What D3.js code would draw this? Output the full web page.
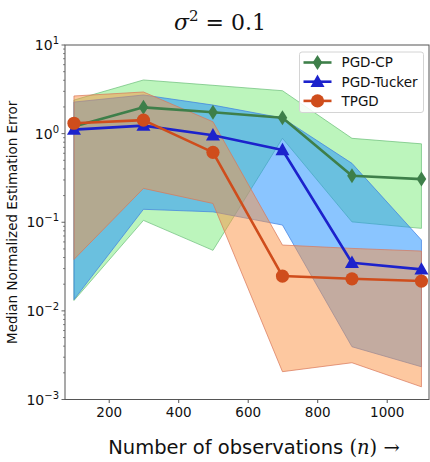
<!DOCTYPE html>
<html>
<head>
<meta charset="utf-8">
<script src="https://cdn.jsdelivr.net/npm/d3@7"></script>
<style>
  html, body { margin: 0; padding: 0; background: #fff; }
  svg { display: block; }
</style>
</head>
<body>
<svg id="chart" width="430" height="462"></svg>
<script>
// Number of observations
const observations = [100, 300, 500, 700, 900, 1100];

// Median errors per method
const pgdCpMedian     = [1.20, 1.98, 1.74, 1.51, 0.335, 0.307];
const pgdTuckerMedian = [1.11, 1.23, 0.957, 0.653, 0.0349, 0.0294];
const tpgdMedian      = [1.31, 1.42, 0.615, 0.0247, 0.0230, 0.0217];

// Spread bands (lower / upper) per method
const pgdCpLower      = [0.0131, 0.105, 0.0482, 0.885, 0.101, 0.0853];
const pgdCpUpper      = [2.39, 4.03, 3.51, 3.05, 0.885, 0.767];
const pgdTuckerLower  = [0.0134, 0.140, 0.131, 0.0930, 0.00394, 0.00234];
const pgdTuckerUpper  = [2.27, 2.73, 2.10, 1.50, 0.462, 0.0630];
const tpgdLower       = [0.0381, 0.241, 0.163, 0.00206, 0.00260, 0.00139];
const tpgdUpper       = [2.66, 2.95, 1.36, 0.0553, 0.0507, 0.0473];

const xTicks = [200, 400, 600, 800, 1000];
const yTickExponents = [1, 0, -1, -2, -3];

const seriesNames = ["PGD-CP", "PGD-Tucker", "TPGD"];

const series = [
  { name: seriesNames[0], med: pgdCpMedian, lo: pgdCpLower, hi: pgdCpUpper,
    line: "#3e7f4a", fill: "#90ee90", fillOpacity: 0.6, edge: "#6dbf7a", marker: "diamond" },
  { name: seriesNames[1], med: pgdTuckerMedian, lo: pgdTuckerLower, hi: pgdTuckerUpper,
    line: "#1c22cc", fill: "#1e90ff", fillOpacity: 0.52, edge: "#3f7fe0", marker: "triangle" },
  { name: seriesNames[2], med: tpgdMedian, lo: tpgdLower, hi: tpgdUpper,
    line: "#cf4d1c", fill: "#fb9141", fillOpacity: 0.5, edge: "#d9785a", marker: "circle" }
];

const svg = d3.select("#chart");
const plot = { left: 65, right: 429, top: 45, bottom: 399.5 };

const x = d3.scaleLinear().domain([74.2, 1121.7]).range([plot.left, plot.right]);
const y = d3.scaleLog().domain([1e-3, 10]).range([plot.bottom, plot.top]);

svg.append("clipPath").attr("id", "plotClip")
  .append("rect")
  .attr("x", plot.left).attr("y", plot.top)
  .attr("width", plot.right - plot.left).attr("height", plot.bottom - plot.top);

const gPlot = svg.append("g").attr("clip-path", "url(#plotClip)");

// Bands
const area = d3.area()
  .x((d, i) => x(observations[i]))
  .y0(d => y(d[0]))
  .y1(d => y(d[1]));

series.forEach(s => {
  const pts = s.lo.map((v, i) => [v, s.hi[i]]);
  gPlot.append("path")
    .datum(pts)
    .attr("d", area)
    .attr("fill", s.fill)
    .attr("fill-opacity", s.fillOpacity)
    .attr("stroke", s.edge)
    .attr("stroke-opacity", 0.8)
    .attr("stroke-width", 0.9);
});

// Median lines and markers
const line = d3.line()
  .x((d, i) => x(observations[i]))
  .y(d => y(d));

const symbolFor = {
  diamond: d3.symbol().type({
    draw(ctx) {
      const h = 7.5, w = 4.8;
      ctx.moveTo(0, -h); ctx.lineTo(w, 0); ctx.lineTo(0, h); ctx.lineTo(-w, 0); ctx.closePath();
    }
  }),
  triangle: d3.symbol().type({
    draw(ctx) {
      ctx.moveTo(0, -7.2); ctx.lineTo(7, 5.2); ctx.lineTo(-7, 5.2); ctx.closePath();
    }
  }),
  circle: d3.symbol().type(d3.symbolCircle).size(Math.PI * 6.6 * 6.6)
};

series.forEach(s => {
  gPlot.append("path")
    .datum(s.med)
    .attr("d", line)
    .attr("fill", "none")
    .attr("stroke", s.line)
    .attr("stroke-width", 2.6)
    .attr("stroke-linejoin", "round");
  gPlot.selectAll(null)
    .data(s.med)
    .enter().append("path")
    .attr("d", symbolFor[s.marker]())
    .attr("transform", (d, i) => `translate(${x(observations[i])},${y(d)})`)
    .attr("fill", s.line);
});

// Spines
const spineColor = "#555";
svg.append("rect")
  .attr("x", plot.left).attr("y", plot.top)
  .attr("width", plot.right - plot.left).attr("height", plot.bottom - plot.top)
  .attr("fill", "none").attr("stroke", spineColor).attr("stroke-width", 1);

// X axis
const xAxis = d3.axisBottom(x).tickValues(xTicks).tickFormat(d3.format("d"))
  .tickSize(3.5).tickPadding(4);
const gx = svg.append("g").attr("transform", `translate(0,${plot.bottom})`).call(xAxis);
gx.select(".domain").remove();
gx.selectAll(".tick line").attr("stroke", spineColor);
gx.selectAll(".tick text")
  .attr("font-family", "DejaVu Sans, sans-serif")
  .attr("font-size", 13.5)
  .attr("fill", "#111");

// Y axis: major decade ticks and minor ticks
const gy = svg.append("g");
const majors = yTickExponents.map(e => Math.pow(10, e));
const minors = [];
for (let e = -3; e < 1; e++) {
  for (let k = 2; k <= 9; k++) minors.push(k * Math.pow(10, e));
}
gy.selectAll(".minor").data(minors).enter().append("line")
  .attr("x1", plot.left - 2).attr("x2", plot.left)
  .attr("y1", d => y(d)).attr("y2", d => y(d))
  .attr("stroke", spineColor).attr("stroke-width", 0.7);
gy.selectAll(".major").data(majors).enter().append("line")
  .attr("x1", plot.left - 3.5).attr("x2", plot.left)
  .attr("y1", d => y(d)).attr("y2", d => y(d))
  .attr("stroke", spineColor).attr("stroke-width", 0.9);

const yLabels = gy.selectAll(".ylab").data(yTickExponents).enter().append("text")
  .attr("x", plot.left - 6)
  .attr("y", e => y(Math.pow(10, e)) + 5)
  .attr("text-anchor", "end")
  .attr("font-family", "DejaVu Sans, sans-serif")
  .attr("font-size", 14)
  .attr("fill", "#111");
yLabels.append("tspan").text("10");
yLabels.append("tspan")
  .attr("dy", -6)
  .attr("font-size", 10)
  .text(e => e < 0 ? "\u2212" + Math.abs(e) : String(e));

// Y axis title
svg.append("text")
  .attr("transform", `translate(17,${(plot.top + plot.bottom) / 2}) rotate(-90)`)
  .attr("text-anchor", "middle")
  .attr("font-family", "DejaVu Sans, sans-serif")
  .attr("font-size", 13.5)
  .attr("fill", "#111")
  .text("Median Normalized Estimation Error");

// X axis title
const xt = svg.append("text")
  .attr("x", 254).attr("y", 454)
  .attr("text-anchor", "middle")
  .attr("font-family", "DejaVu Sans, sans-serif")
  .attr("font-size", 19.5)
  .attr("fill", "#111");
xt.append("tspan").text("Number of observations ");
xt.append("tspan").attr("font-family", "DejaVu Serif, serif").text("(");
xt.append("tspan").attr("font-family", "DejaVu Serif, serif").attr("font-style", "italic").text("n");
xt.append("tspan").attr("font-family", "DejaVu Serif, serif").text(") \u2192");

// Title
const title = svg.append("text")
  .attr("x", 220).attr("y", 30)
  .attr("text-anchor", "middle")
  .attr("font-family", "DejaVu Serif, serif")
  .attr("font-size", 22)
  .attr("fill", "#111");
title.append("tspan").attr("font-style", "italic").text("\u03c3");
title.append("tspan").attr("dy", -9).attr("font-size", 15).text("2");
title.append("tspan").attr("dy", 9).text(" = 0.1");

// Legend
const legend = svg.append("g");
legend.append("rect")
  .attr("x", 299.5).attr("y", 52).attr("width", 124).attr("height", 60.5)
  .attr("rx", 2.5)
  .attr("fill", "#fff").attr("fill-opacity", 0.85)
  .attr("stroke", "#d4d4d4").attr("stroke-width", 1);
series.forEach((s, i) => {
  const ly = 62.5 + i * 19.2;
  legend.append("line")
    .attr("x1", 303.5).attr("x2", 331.5).attr("y1", ly).attr("y2", ly)
    .attr("stroke", s.line).attr("stroke-width", 2.6);
  legend.append("path")
    .attr("d", symbolFor[s.marker]())
    .attr("transform", `translate(317.5,${ly})`)
    .attr("fill", s.line);
  legend.append("text")
    .attr("x", 341.5).attr("y", ly + 4.8)
    .attr("font-family", "DejaVu Sans, sans-serif")
    .attr("font-size", 13.5)
    .attr("fill", "#111")
    .text(s.name);
});
</script>
</body>
</html>
